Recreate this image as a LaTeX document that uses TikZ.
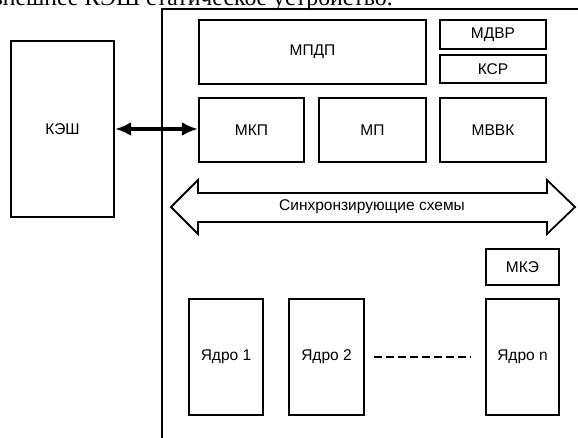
\documentclass[tikz,border=0pt]{standalone}
\usepackage{fontspec}
\setmainfont{Liberation Sans}
\newfontfamily\serifpart{Liberation Serif}
\usetikzlibrary{arrows.meta}

\begin{document}
\begin{tikzpicture}[x=1pt, y=-1pt, font=\fontsize{15.5}{17}\selectfont,
  blok/.style={draw, line width=1.8pt, inner sep=0pt}]
\clip (0,0) rectangle (578,438);

% cut-off line of text above the figure
\node[font=\serifpart\fontsize{23.8}{26}\selectfont, anchor=base east, inner sep=0pt] (txt) at (393,5.5) {внешнее КЭШ статическое устройство.};

% frame of the chip
\draw[line width=1.8pt] (162,440) -- (162,9) -- (580,9);

\node[blok, minimum width=103.5pt, minimum height=176.5pt] (kesh) at (62.5,129) {КЭШ};

\node[blok, minimum width=227.5pt, minimum height=64.5pt] (mpdp) at (312.5,52) {МПДП};
\node[blok, minimum width=106.5pt, minimum height=29.5pt] (mdvr) at (493,34.5) {МДВР};
\node[blok, minimum width=106.5pt, minimum height=28.5pt] (ksr) at (493,69) {КСР};

\node[blok, minimum width=105.5pt, minimum height=64.5pt] (mkp) at (251.5,130) {МКП};
\node[blok, minimum width=107.5pt, minimum height=64.5pt] (mp) at (372.5,130) {МП};
\node[blok, minimum width=106.5pt, minimum height=64.5pt] (mvvk) at (493,130) {МВВК};

\draw[line width=3.4pt, {Latex[length=16pt,width=14pt]}-{Latex[length=16pt,width=14pt]}] (kesh.east |- 0,129) -- (mkp.west |- 0,129);

% synchronizing bus
\draw[line width=1.8pt, line join=miter] (171,207) -- (198,180) -- (198,193) -- (547,193) -- (547,180)
  -- (575,207) -- (547,234) -- (547,222) -- (198,222) -- (198,234) -- cycle;
\node (sync) at (372,207) {Синхронзирующие схемы};

\node[blok, minimum width=73.5pt, minimum height=36.5pt] (mke) at (522.5,267) {МКЭ};

\node[blok, minimum width=74.5pt, minimum height=116.5pt] (core1) at (226,357) {Ядро 1};
\node[blok, minimum width=74.5pt, minimum height=116.5pt] (core2) at (326.5,357) {Ядро 2};
\node[blok, minimum width=73.5pt, minimum height=116.5pt] (coren) at (522.5,357) {Ядро n};

\draw[line width=2pt, dash pattern=on 8pt off 4pt] ([xshift=9pt]core2.east) -- ([xshift=-15pt]coren.west);

\end{tikzpicture}
\end{document}
